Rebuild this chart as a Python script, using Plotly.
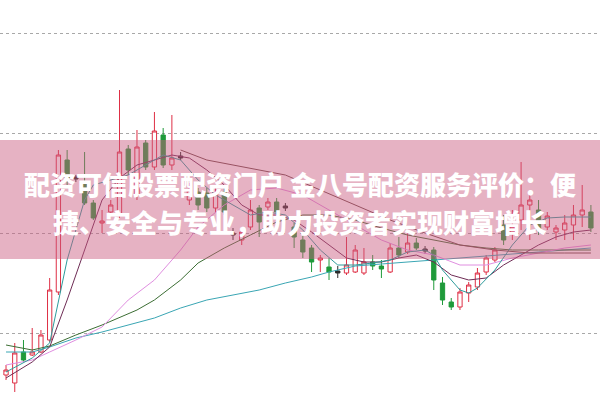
import plotly.graph_objects as go

# ---- candle data (price units) ----
idx = list(range(68))
opens = [10.8,10.0,13.1,12.8,13.1,14.3,19.1,32.3,30.6,30.0,28.0,26.0,27.1,26.8,33.4,28.8,34.0,31.6,34.8,31.8,
         32.7,28.3,29.1,29.0,27.5,29.1,25.0,24.3,25.6,27.5,27.6,28.1,27.7,25.6,24.3,23.5,22.3,21.6,21.2,21.0,
         21.1,21.0,22.1,21.7,21.1,23.5,23.1,24.0,23.4,23.3,20.0,18.1,17.6,19.0,19.6,21.1,22.3,25.8,25.1,26.3,
         27.8,27.3,25.6,25.1,25.3,25.8,26.8,27.1]
highs = [11.8,14.0,14.3,15.5,15.3,20.5,33.3,33.3,30.8,33.1,28.3,27.3,28.3,39.3,33.8,35.3,34.3,37.1,35.5,36.8,
         33.1,30.0,29.5,29.5,29.8,29.5,25.5,25.6,28.3,27.8,28.5,28.5,28.0,26.0,24.8,23.8,22.8,22.5,21.7,24.6,
         23.8,23.5,22.8,22.3,24.0,24.6,25.1,24.5,23.7,23.6,20.6,18.5,19.5,20.1,21.5,22.8,23.6,26.8,27.3,32.1,
         28.8,28.3,27.1,25.8,26.8,27.8,29.8,27.8]
lows = [10.3,9.1,12.1,12.7,13.0,14.1,18.8,29.8,30.1,27.8,26.3,25.0,26.8,26.5,30.8,28.3,31.3,31.3,31.5,31.3,
        32.3,27.8,27.3,27.1,27.1,26.8,24.3,23.8,25.3,24.6,27.3,26.8,27.2,23.5,22.5,21.1,21.1,20.3,20.5,20.8,
        21.0,20.8,21.3,20.5,21.0,22.5,22.9,23.3,22.9,19.3,17.8,17.3,17.3,18.1,19.3,20.8,22.1,23.8,24.3,25.3,
        24.3,24.8,25.3,24.3,24.3,24.3,25.6,25.1]
closes = [11.3,13.0,12.3,13.1,14.8,19.3,32.8,30.5,30.4,28.0,26.5,26.2,27.8,33.1,31.3,33.6,31.6,35.2,31.8,32.5,
          32.5,29.3,27.8,27.5,29.0,27.1,24.8,25.1,27.3,26.1,28.1,27.1,27.5,24.6,23.1,22.1,22.5,21.1,21.0,21.8,
          23.3,22.1,21.7,21.4,23.5,22.8,24.0,23.5,23.2,20.3,18.3,17.6,19.1,19.8,21.0,22.5,23.3,24.3,25.6,27.8,
          28.3,25.3,26.7,25.5,26.0,26.8,27.3,25.5]
doji_idx = [8, 20, 26, 32, 38, 48]

# ---- moving average lines (read at selected candles) ----
ma5_i = [0,3,5,7,9,10,12,14,16,18,20,22,24,26,28,30,32,34,36,38,40,42,44,46,48,49,50,52,53,54,56,58,60,62,64,67]
ma5_v = [11.1,12.5,14.0,22.3,28.3,29.8,30.3,30.8,31.8,32.8,32.3,30.3,28.8,27.8,26.8,27.1,26.8,25.3,23.3,21.8,
         21.8,22.0,22.3,23.1,23.3,22.8,21.3,19.3,19.0,19.5,21.3,23.8,25.8,26.5,26.6,26.6]
ma10_i = [0,3,5,7,9,11,13,15,17,19,21,23,25,27,29,31,33,35,37,39,41,43,45,47,49,51,53,55,57,59,61,63,65,67]
ma10_v = [10.5,12.1,13.6,18.3,23.3,28.3,30.5,31.8,32.3,32.8,32.5,31.3,29.8,27.8,26.8,26.8,26.3,25.1,23.8,22.5,
          22.1,22.1,22.5,22.8,22.1,20.8,20.3,20.5,21.8,22.8,23.8,24.6,25.1,25.3]
ma20_i = [0,3,5,8,11,14,17,20,22,25,28,31,34,37,40,43,46,49,52,55,58,61,64,67]
ma20_v = [11.8,12.3,13.1,14.3,15.6,18.3,20.3,23.3,25.6,27.8,29.3,29.5,28.8,27.3,25.8,24.3,23.3,22.8,21.8,21.8,
          22.5,23.0,23.5,23.8]
ma30_i = [0,3,5,8,11,15,17,20,22,25,28,31,34,37,40,43,46,49,52,55,58,61,64,67]
ma30_v = [13.8,13.3,13.7,14.8,15.8,17.3,18.3,20.3,22.0,23.5,24.8,26.1,26.8,26.8,26.3,25.5,24.8,24.3,23.8,23.5,
          23.3,23.3,23.3,23.3]
ma60_i = [0,3,5,8,11,14,17,20,23,26,29,32,35,37,40,43,46,49,52,55,58,61,64,67]
ma60_v = [13.1,13.1,13.6,14.5,15.1,15.8,16.5,17.5,18.3,18.8,19.3,20.0,20.6,21.1,21.7,21.9,22.1,22.3,22.5,22.7,
          22.9,23.1,23.3,23.5]
ma120_i = [20,23,26,29,32,36,40,44,48,52,56,60,64,67]
ma120_v = [33.3,32.3,31.8,31.3,30.8,29.3,27.8,26.3,25.0,23.8,23.3,23.0,23.0,23.0]

# ---- title text ----
title_line1 = "配资可信股票配资门户 金八号配资服务评价：便"
title_line2 = "捷、安全与专业，助力投资者实现财富增长"

UP = "#de2f45"
DOWN = "#1f9a3a"

reg = [i for i in idx if i not in doji_idx]
fig = go.Figure()
fig.add_trace(go.Candlestick(
    x=reg, open=[opens[i] for i in reg], high=[highs[i] for i in reg],
    low=[lows[i] for i in reg], close=[closes[i] for i in reg],
    increasing=dict(line=dict(color=UP, width=1), fillcolor="white"),
    decreasing=dict(line=dict(color=DOWN, width=1), fillcolor=DOWN),
    whiskerwidth=0, showlegend=False, hoverinfo="skip"))
fig.add_trace(go.Candlestick(
    x=doji_idx, open=[opens[i] for i in doji_idx], high=[highs[i] for i in doji_idx],
    low=[lows[i] for i in doji_idx], close=[closes[i] for i in doji_idx],
    increasing=dict(line=dict(color="#2a2a2a", width=1), fillcolor="#2a2a2a"),
    decreasing=dict(line=dict(color="#2a2a2a", width=1), fillcolor="#2a2a2a"),
    whiskerwidth=0, showlegend=False, hoverinfo="skip"))

for xs, ys, col in [(ma60_i, ma60_v, "#3aa6b4"), (ma30_i, ma30_v, "#3c6e34"),
                    (ma20_i, ma20_v, "#e08ee0"), (ma10_i, ma10_v, "#6e2c55"),
                    (ma5_i, ma5_v, "#2e9c9c"), (ma120_i, ma120_v, "#6e4a48")]:
    fig.add_trace(go.Scatter(x=xs, y=ys, mode="lines", line=dict(color=col, width=1),
                             showlegend=False, hoverinfo="skip"))

fig.add_shape(type="rect", xref="paper", yref="paper", x0=0, x1=1,
              y0=1 - 259 / 400, y1=1 - 140 / 400, line=dict(width=0),
              fillcolor="rgba(202,91,128,0.47)", layer="above")

font = dict(family="Noto Sans CJK SC", size=26, color="white", weight=900)
fig.add_annotation(text=title_line1, x=0.5, y=1 - 183 / 400, xref="paper", yref="paper",
                   showarrow=False, font=font, xanchor="center", yanchor="middle")
fig.add_annotation(text=title_line2, x=0.5, y=1 - 221 / 400, xref="paper", yref="paper",
                   showarrow=False, font=font, xanchor="center", yanchor="middle")

fig.update_layout(
    width=600, height=400, margin=dict(l=0, r=0, t=0, b=0),
    paper_bgcolor="white", plot_bgcolor="white", boxgap=0.3,
    xaxis=dict(range=[-0.69, 68.04], visible=False, rangeslider=dict(visible=False)),
    yaxis=dict(range=[8.3, 48.3], tickvals=[15, 25, 35, 45], showticklabels=False,
               showgrid=True, gridcolor="#a8a8a8", griddash="dot", gridwidth=1,
               zeroline=False, showline=False),
)
fig.write_html("out.html", config={"displayModeBar": False},
               post_script="document.body.style.margin='0';document.body.style.overflow='hidden';")
